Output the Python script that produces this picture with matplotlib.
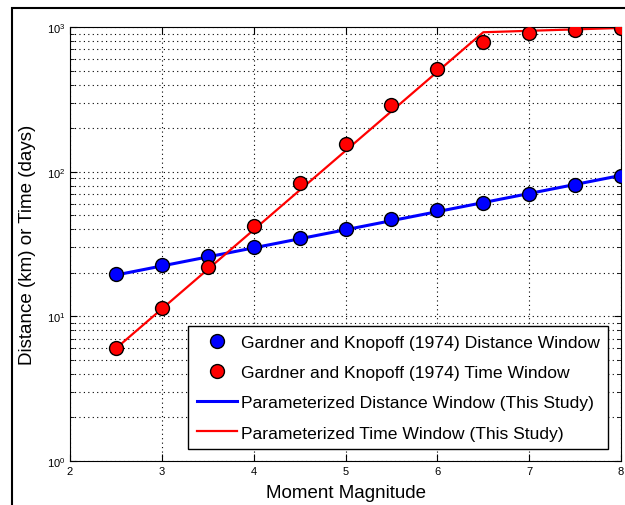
import matplotlib
matplotlib.use("Agg")
import matplotlib.pyplot as plt
from matplotlib.patches import Rectangle
from matplotlib.ticker import LogLocator, NullFormatter, FixedLocator

plt.rcParams['font.family'] = ['Liberation Sans', 'DejaVu Sans']

magnitudes = [2.5, 3.0, 3.5, 4.0, 4.5, 5.0, 5.5, 6.0, 6.5, 7.0, 7.5, 8.0]
gk_distance = [19.5, 22.5, 26, 30, 35, 40, 47, 54, 61, 70, 81, 94]
gk_time = [6, 11.5, 22, 42, 83, 155, 290, 510, 790, 915, 960, 985]

param_dist_M = [2.5, 8.0]
param_dist = [19.3, 94.2]
param_time_M = [2.5, 6.5, 8.0]
param_time = [6.0, 920, 985]

fig = plt.figure(figsize=(6.25, 5.06), dpi=100)
fig.patches.append(Rectangle((12/625, -0.2), 2, 0.2 + (506-9)/506, transform=fig.transFigure,
                             fill=False, edgecolor='black', linewidth=1.5))
ax = fig.add_axes([70/625, (506-462)/506, (621-70)/625, (462-28)/506])

ax.plot(magnitudes, gk_distance, 'o', color='blue', markeredgecolor='black',
        markersize=10, label='Gardner and Knopoff (1974) Distance Window', zorder=3)
ax.plot(magnitudes, gk_time, 'o', color='red', markeredgecolor='black',
        markersize=10, label='Gardner and Knopoff (1974) Time Window', zorder=3)
ax.plot(param_dist_M, param_dist, '-', color='blue', linewidth=2.2,
        label='Parameterized Distance Window (This Study)', zorder=2)
ax.plot(param_time_M, param_time, '-', color='red', linewidth=1.6,
        label='Parameterized Time Window (This Study)', zorder=2)

ax.set_yscale('log')
ax.set_xlim(2, 8)
ax.set_ylim(1, 1000)
ax.xaxis.set_major_locator(FixedLocator([2, 3, 4, 5, 6, 7, 8]))
ax.yaxis.set_major_locator(LogLocator(base=10))
ax.yaxis.set_minor_locator(LogLocator(base=10, subs=range(2, 10)))
ax.yaxis.set_minor_formatter(NullFormatter())
ax.grid(True, which='major', axis='both', linestyle=(0, (1, 3)), color='black', linewidth=0.8)
ax.grid(True, which='minor', axis='y', linestyle=(0, (1, 3)), color='black', linewidth=0.8)
ax.tick_params(which='both', direction='in', top=True, right=True, labelsize=8)
ax.tick_params(which='major', length=5)
ax.tick_params(which='minor', length=3)

ax.set_xlabel('Moment Magnitude', fontsize=13.5, labelpad=6)
ax.set_ylabel('Distance (km) or Time (days)', fontsize=13.5, labelpad=8)

leg = ax.legend(loc='lower right', bbox_to_anchor=(0.977, 0.027), fontsize=12.6,
                frameon=True, fancybox=False, edgecolor='black', framealpha=1,
                handlelength=2.3, handletextpad=0.2, borderpad=0.5, labelspacing=0.85,
                borderaxespad=0, numpoints=1)
leg.get_frame().set_linewidth(1.0)

fig.savefig('out.png', dpi=100)
